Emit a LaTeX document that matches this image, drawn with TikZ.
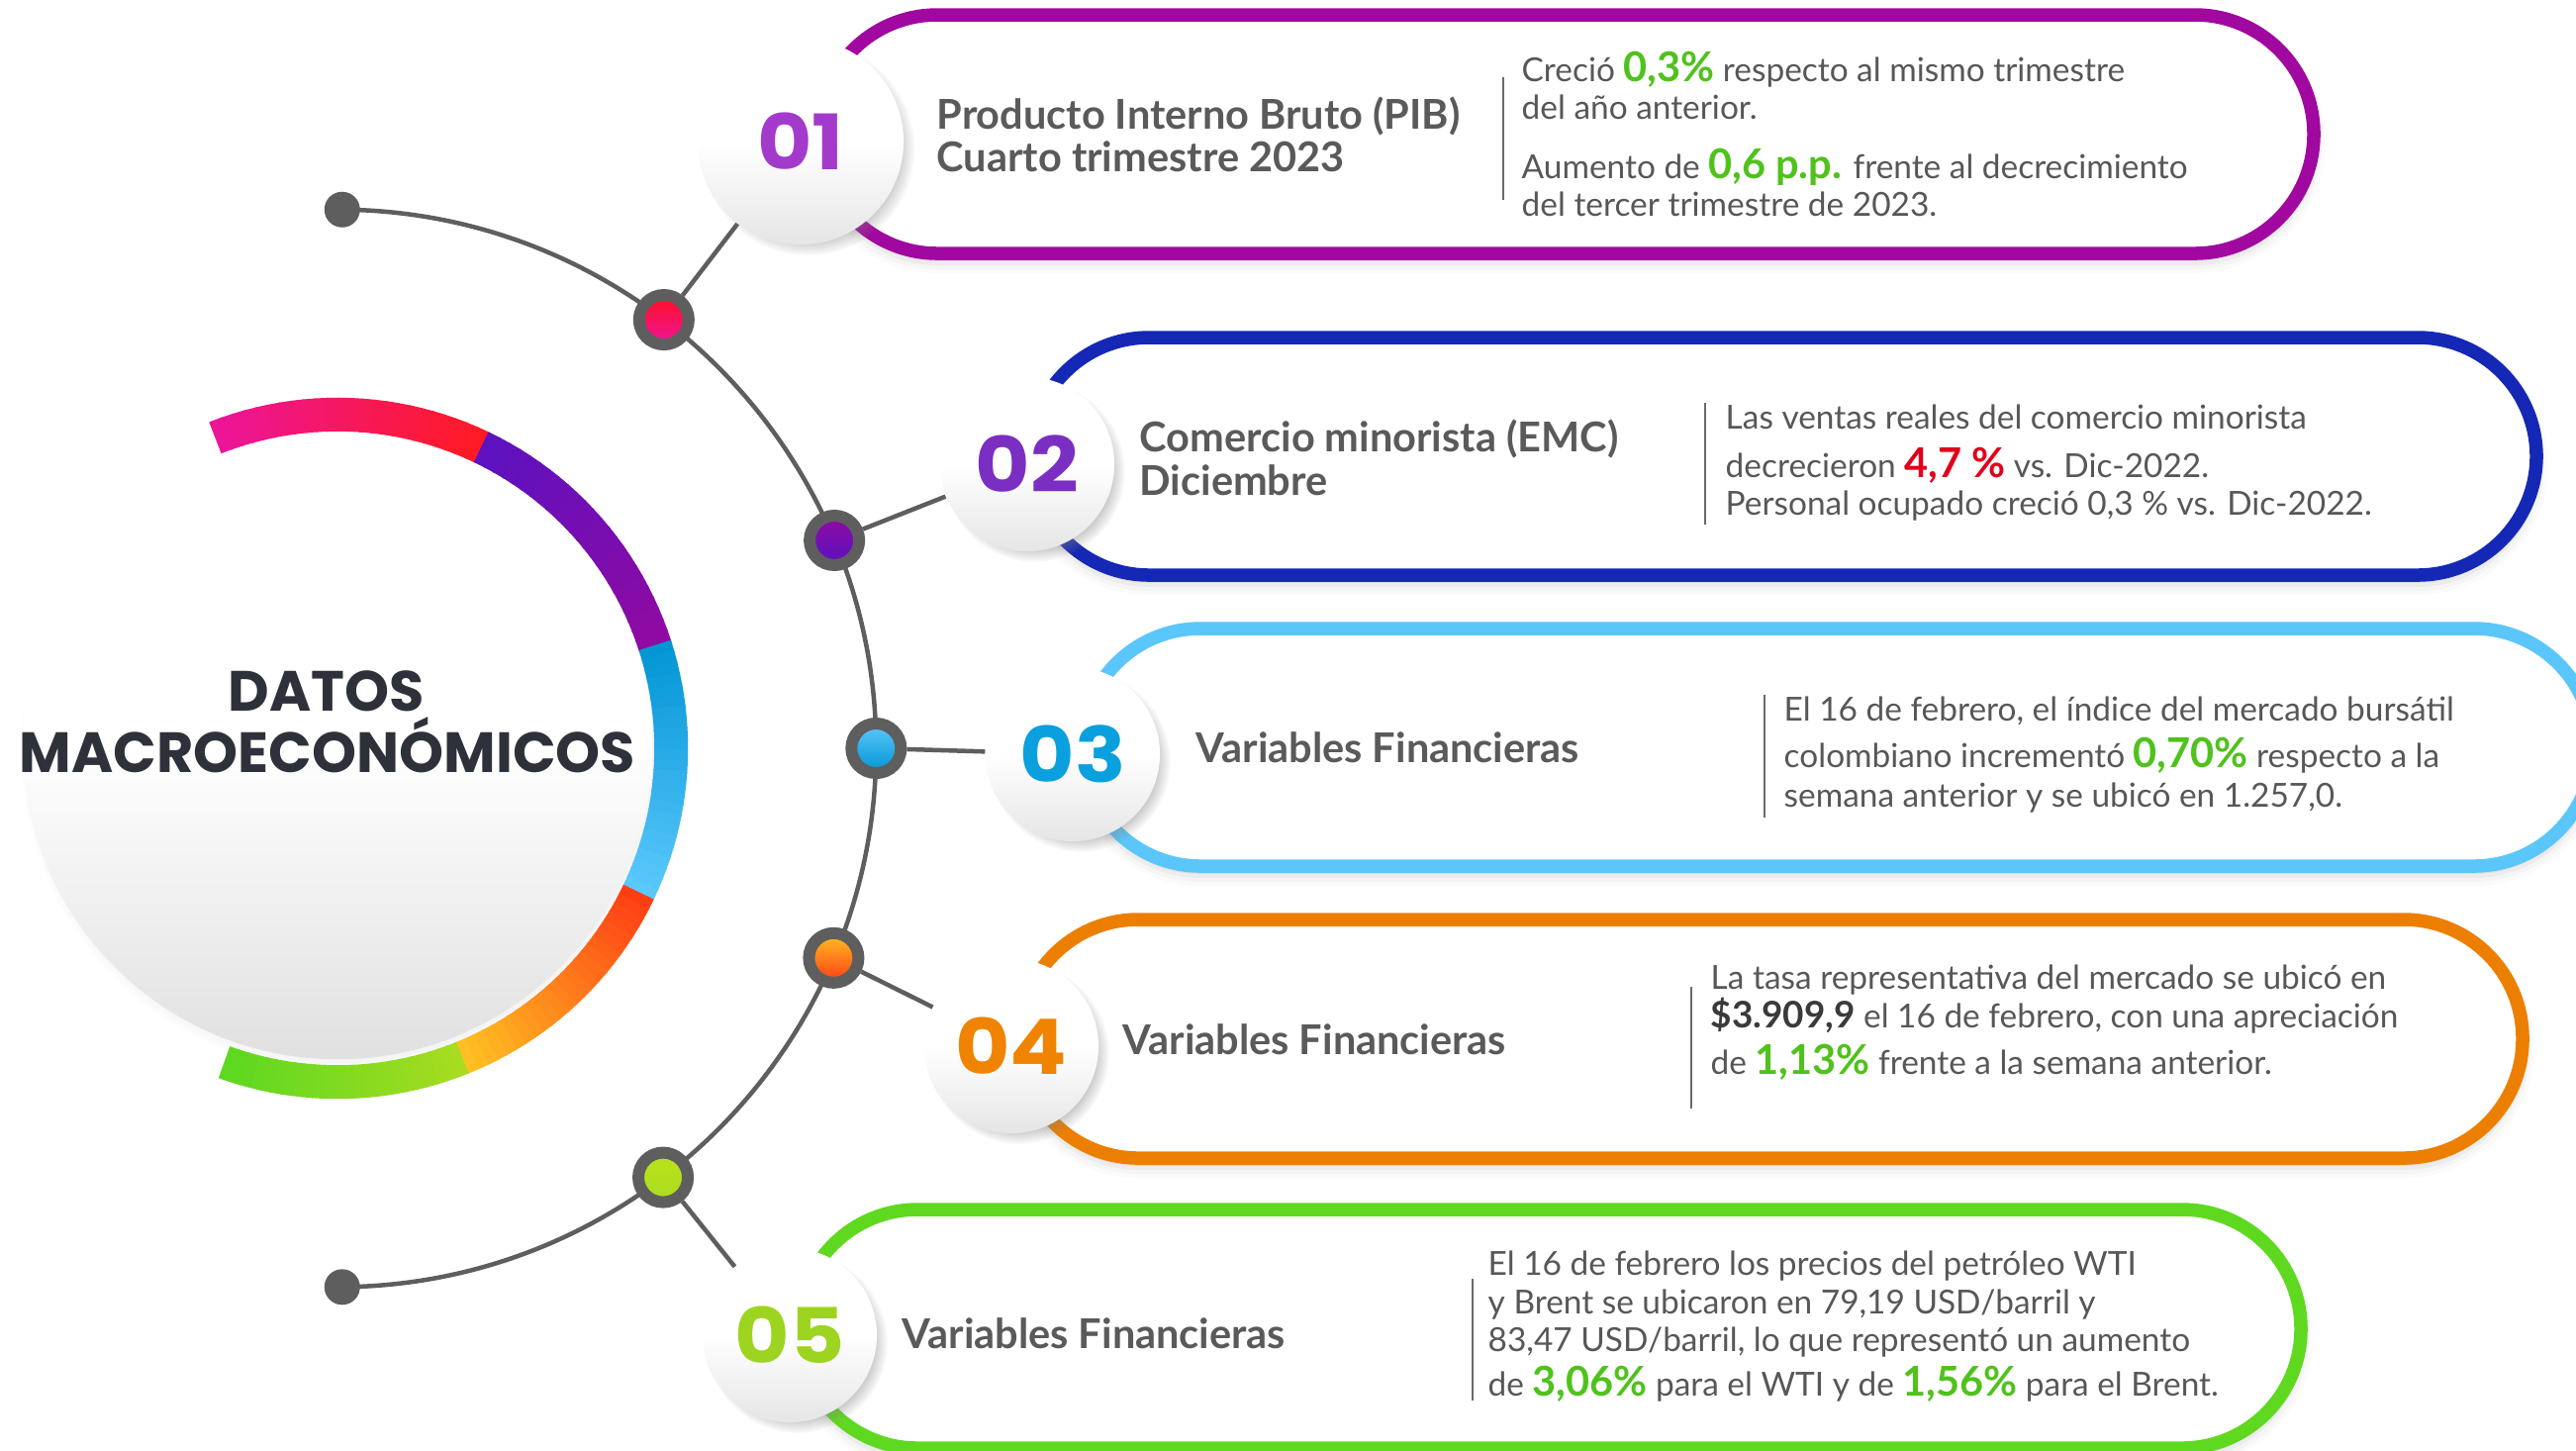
\documentclass[tikz,border=0pt]{standalone}
\usepackage{fontspec}
\usepackage{graphicx}
\setmainfont{Lato}
\newfontfamily\popfont{Poppins}
\usetikzlibrary{calc,shadows}
\pgfdeclarelayer{bg}
\pgfsetlayers{bg,main}

\definecolor{linegray}{HTML}{5E5E5E}
\definecolor{sepgray}{HTML}{6A6A6A}
\definecolor{txtgray}{HTML}{575757}
\definecolor{ttlgray}{HTML}{5A5A5A}
\definecolor{darktxt}{HTML}{3A3A3A}
\definecolor{hlgreen}{HTML}{4FC21B}
\definecolor{hlred}{HTML}{E2001A}
\definecolor{titledark}{HTML}{2F313A}
\definecolor{cbox1}{HTML}{A0089F}
\definecolor{cbox2}{HTML}{1428B5}
\definecolor{cbox3}{HTML}{5BC6FA}
\definecolor{cbox4}{HTML}{EC7F00}
\definecolor{cbox5}{HTML}{5FD91F}
\definecolor{num1}{HTML}{A43ACB}
\definecolor{num2}{HTML}{7A2FC2}
\definecolor{num3}{HTML}{0AA0DE}
\definecolor{num4}{HTML}{F08300}
\definecolor{num5}{HTML}{9CD41F}
\definecolor{rpink}{HTML}{EC159B}
\definecolor{rred}{HTML}{FF1A22}
\definecolor{dotred}{HTML}{FF1020}
\definecolor{rviolet}{HTML}{5A12C0}
\definecolor{rpurple}{HTML}{900AA2}
\definecolor{rblueA}{HTML}{0094D4}
\definecolor{rblueB}{HTML}{5CC9FC}
\definecolor{rorA}{HTML}{FF3A14}
\definecolor{rorB}{HTML}{FFC222}
\definecolor{rgrA}{HTML}{A9DC20}
\definecolor{rgrB}{HTML}{5CD820}

\newcommand\hig[1]{{\fontsize{11.8}{12}\selectfont\bfseries\color{hlgreen}#1}}
\newcommand\hir[1]{{\fontsize{11.8}{12}\selectfont\bfseries\color{hlred}#1}}
\newcommand\hid[1]{{\fontsize{10.5}{12}\selectfont\bfseries\color{darktxt}#1}}
\newcommand\numtext[1]{\scalebox{1.1}[1]{#1}}

\newcommand\capshadow[4]{%
  \foreach \g/\o in {0/0.05,4/0.035,8/0.025,12/0.015}{%
    \pgfmathsetmacro\rr{(120+\g)*0.01}%
    \fill[black, opacity=\o, rounded corners=\rr cm] (#1-\g,-#2+\g-8) rectangle (#3+\g,-#4-\g-8);
  }%
}

\tikzset{
  capsule/.style={line width=0.135cm, rounded corners=1.2cm, fill=white},
  numcirc/.style={circle, inner sep=0pt, minimum size=1.76cm, top color=white, bottom color=black!10, middle color=white,
     circular drop shadow={shadow xshift=0.07cm, shadow yshift=-0.07cm, shadow scale=1.04, opacity=0.4}},
  bignumcirc/.style={numcirc, minimum size=2.08cm},
  dotnode/.style={circle, inner sep=0pt, minimum size=0.5cm, draw=linegray, line width=0.12cm},
  enddot/.style={circle, inner sep=0pt, minimum size=0.36cm, fill=linegray},
  arcline/.style={draw=linegray, line width=0.045cm},
  spoke/.style={draw=linegray, line width=0.045cm},
  sepline/.style={draw=sepgray, line width=0.022cm},
  ttl/.style={anchor=base west, inner sep=0pt, font=\fontsize{11.8}{12}\selectfont\bfseries, text=ttlgray},
  body/.style={anchor=base west, inner sep=0pt, font=\fontsize{9.5}{10.8}\selectfont, text=txtgray},
  bigtitle/.style={anchor=base, inner sep=0pt, font=\fontsize{16.3}{16}\popfont\bfseries, text=titledark},
}

\begin{document}
\begin{tikzpicture}[x=0.01cm,y=0.01cm]
\useasboundingbox (0,0) rectangle (2603,-1465);
\begin{pgfonlayer}{bg}
\fill[white] (0,0) rectangle (2603,-1465);
\end{pgfonlayer}
\coordinate (c0) at (341,-756);

% central disk
\node[circle, minimum size=6.36cm, inner sep=0pt, top color=white, bottom color=black!12, middle color=white,
  circular drop shadow={shadow xshift=0.04cm, shadow yshift=-0.06cm, shadow scale=1.02, opacity=0.3}] (core) at (341,-752) {};

% coloured ring
\foreach \a/\b/\ca/\cb in {111.5/64.5/rpink/rred, 64.5/18/rviolet/rpurple, 18/-25.5/rblueA/rblueB, -25.5/-68/rorA/rorB, -68/-109.5/rgrA/rgrB}{
  \foreach \i in {0,...,23}{
    \pgfmathsetmacro\s{\a+(\b-\a)*\i/24}
    \pgfmathsetmacro\e{\a+(\b-\a)*(\i+1.2)/24}
    \pgfmathtruncatemacro\p{100-100*(\i+0.5)/24}
    \draw[line width=0.34cm, color=\ca!\p!\cb] ($(c0)+(\s:3.37cm)$) arc[start angle=\s, end angle=\e, radius=3.37cm];
  }
}

\node[bigtitle] (tA) at (330,-718) {DATOS};
\node[bigtitle] (tB) at (331,-780) {MACROECONÓMICOS};

% capsules
\capshadow{827}{15}{2338}{256}
\draw[capsule, draw=cbox1] (827,-15) rectangle (2338,-256);
\capshadow{1041}{341}{2563}{581}
\draw[capsule, draw=cbox2] (1041,-341) rectangle (2563,-581);
\capshadow{1093}{635}{2620}{875}
\draw[capsule, draw=cbox3] (1093,-635) rectangle (2620,-875);
\capshadow{1030}{929}{2549}{1170}
\draw[capsule, draw=cbox4] (1030,-929) rectangle (2549,-1170);
\capshadow{807}{1222}{2325}{1463}
\draw[capsule, draw=cbox5] (807,-1222) rectangle (2325,-1463);

% number circles
\node[bignumcirc] (n1) at (809,-143) {\numtext{\popfont\fontsize{22}{22}\selectfont\bfseries\color{num1}01}};
\node[numcirc] (n2) at (1038,-469) {\numtext{\popfont\fontsize{22}{22}\selectfont\bfseries\color{num2}02}};
\node[numcirc] (n3) at (1084,-762) {\numtext{\popfont\fontsize{22}{22}\selectfont\bfseries\color{num3}03}};
\node[numcirc] (n4) at (1022,-1057) {\numtext{\popfont\fontsize{22}{22}\selectfont\bfseries\color{num4}04}};
\node[numcirc] (n5) at (798,-1349) {\numtext{\popfont\fontsize{22}{22}\selectfont\bfseries\color{num5}05}};

% dots
\node[dotnode, top color=dotred, bottom color=rpink] (d1) at ($(c0)+(52.7:5.44cm)$) {};
\node[dotnode, top color=rpurple, bottom color=rviolet] (d2) at ($(c0)+(22.7:5.44cm)$) {};
\node[dotnode, top color=rblueB, bottom color=rblueA] (d3) at ($(c0)+(0:5.44cm)$) {};
\node[dotnode, top color=rorB, bottom color=rorA] (d4) at ($(c0)+(-22.9:5.44cm)$) {};
\node[dotnode, top color=rgrA!80!yellow, bottom color=rgrA] (d5) at ($(c0)+(-52.8:5.44cm)$) {};
\node[enddot] (e1) at ($(c0)+(89.5:5.44cm)$) {};
\node[enddot] (e2) at ($(c0)+(-89.5:5.44cm)$) {};

\begin{pgfonlayer}{bg}
  \draw[arcline] (e1.center) arc[start angle=89.5, end angle=-89.5, radius=5.44cm];
  \draw[spoke] (d1) -- (n1);
  \draw[spoke] (d2) -- (n2);
  \draw[spoke] (d3) -- (n3);
  \draw[spoke] (d4) -- (n4);
  \draw[spoke] (d5) -- (n5);
\end{pgfonlayer}

% box 1
\node[ttl] (h1a) at (946,-130) {Producto Interno Bruto (PIB)};
\node[ttl] (h1b) at (946,-173) {Cuarto trimestre 2023};
\coordinate (s1a) at (1519,-78); \coordinate (s1b) at (1519,-202);
\draw[sepline] (s1a) -- (s1b);
\node[body] (b1a) at (1537,-82) {Creció \hig{0,3\%} respecto al mismo trimestre};
\node[body] (b1b) at (1537,-120) {del año anterior.};
\node[body] (b1c) at (1537,-180) {Aumento de \hig{0,6 p.p.} frente al decrecimiento};
\node[body] (b1d) at (1537,-218) {del tercer trimestre de 2023.};

% box 2
\node[ttl] (h2a) at (1151,-456) {Comercio minorista (EMC)};
\node[ttl] (h2b) at (1151,-500) {Diciembre};
\coordinate (s2a) at (1723,-407); \coordinate (s2b) at (1723,-530);
\draw[sepline] (s2a) -- (s2b);
\node[body] (b2a) at (1743,-433) {Las ventas reales del comercio minorista};
\node[body] (b2b) at (1743,-482) {decrecieron \hir{4,7 \%} vs. Dic-2022.};
\node[body] (b2c) at (1743,-520) {Personal ocupado creció 0,3 \% vs. Dic-2022.};

% box 3
\node[ttl] (h3) at (1208,-770) {Variables Financieras};
\coordinate (s3a) at (1783,-702); \coordinate (s3b) at (1783,-826);
\draw[sepline] (s3a) -- (s3b);
\node[body] (b3a) at (1802,-728) {El 16 de febrero, el índice del mercado bursátil};
\node[body] (b3b) at (1802,-775) {colombiano incrementó \hig{0,70\%} respecto a la};
\node[body] (b3c) at (1802,-815) {semana anterior y se ubicó en 1.257,0.};

% box 4
\node[ttl] (h4) at (1134,-1065) {Variables Financieras};
\coordinate (s4a) at (1709,-997); \coordinate (s4b) at (1709,-1120);
\draw[sepline] (s4a) -- (s4b);
\node[body] (b4a) at (1728,-999) {La tasa representativa del mercado se ubicó en};
\node[body] (b4b) at (1728,-1038) {\hid{\$3.909,9} el 16 de febrero, con una apreciación};
\node[body] (b4c) at (1728,-1085) {de \hig{1,13\%} frente a la semana anterior.};

% box 5
\node[ttl] (h5) at (911,-1362) {Variables Financieras};
\coordinate (s5a) at (1488,-1292); \coordinate (s5b) at (1488,-1415);
\draw[sepline] (s5a) -- (s5b);
\node[body] (b5a) at (1503,-1288) {El 16 de febrero los precios del petróleo WTI};
\node[body] (b5b) at (1503,-1327) {y Brent se ubicaron en 79,19 USD/barril y};
\node[body] (b5c) at (1503,-1365) {83,47 USD/barril, lo que representó un aumento};
\node[body] (b5d) at (1503,-1410) {de \hig{3,06\%} para el WTI y de \hig{1,56\%} para el Brent.};
\end{tikzpicture}
\end{document}
